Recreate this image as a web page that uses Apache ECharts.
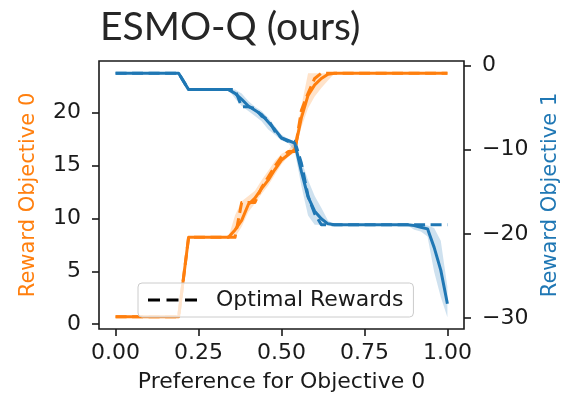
<!DOCTYPE html>
<html>
<head>
<meta charset="utf-8">
<script src="https://cdn.jsdelivr.net/npm/echarts@6/dist/echarts.min.js"></script>
<style>
  html, body { margin: 0; padding: 0; background: #fff; }
  #chart { width: 569px; height: 398px; }
</style>
</head>
<body>
<div id="chart"></div>
<script>
// Preference weights for objective 0 at which the policy was evaluated
const prefs = [0, 0.05, 0.1, 0.15, 0.19, 0.22, 0.26, 0.3, 0.34, 0.36, 0.38, 0.4, 0.42, 0.44, 0.46, 0.48, 0.5, 0.52, 0.54, 0.56, 0.58, 0.6, 0.62, 0.64, 0.66, 0.7, 0.75, 0.8, 0.85, 0.88, 0.9, 0.92, 0.94, 0.96, 0.98, 1.0];

// Objective 0 (left axis): mean reward, optimal reward, min/max envelope
const obj0Mean = [0.7, 0.7, 0.7, 0.7, 0.7, 8.2, 8.2, 8.2, 8.2, 8.9, 9.8, 11.3, 11.9, 12.8, 13.6, 14.6, 15.5, 16.0, 16.5, 19.5, 21.6, 22.6, 23.2, 23.6, 23.7, 23.7, 23.7, 23.7, 23.7, 23.7, 23.7, 23.7, 23.7, 23.7, 23.7, 23.7];
const obj0Opt  = [0.7, 0.7, 0.7, 0.7, 0.7, 8.2, 8.2, 8.2, 8.2, 8.2, 11.5, 11.5, 11.5, 12.9, 13.9, 14.9, 15.8, 16.3, 16.3, 20.2, 21.8, 23.2, 23.7, 23.7, 23.7, 23.7, 23.7, 23.7, 23.7, 23.7, 23.7, 23.7, 23.7, 23.7, 23.7, 23.7];
const obj0Low  = [0.7, 0.7, 0.7, 0.7, 0.7, 8.2, 8.2, 8.2, 8.2, 8.2, 9.2, 10.6, 11.4, 12.3, 13.1, 14.1, 15.1, 15.8, 16.2, 18.6, 20.4, 21.5, 22.3, 23.0, 23.7, 23.7, 23.7, 23.7, 23.7, 23.7, 23.7, 23.7, 23.7, 23.7, 23.7, 23.7];
const obj0High = [0.7, 0.7, 0.7, 0.7, 0.7, 8.2, 8.2, 8.2, 8.2, 10.3, 11.6, 12.1, 12.6, 13.6, 14.5, 15.4, 16.1, 16.4, 17.3, 20.6, 23.7, 23.7, 23.7, 23.7, 23.7, 23.7, 23.7, 23.7, 23.7, 23.7, 23.7, 23.7, 23.7, 23.7, 23.7, 23.7];

// Objective 1 (right axis): mean reward, optimal reward, min/max envelope
const obj1Mean = [-0.9, -0.9, -0.9, -0.9, -0.9, -2.85, -2.85, -2.85, -2.85, -3.3, -4.0, -4.8, -5.3, -5.8, -6.7, -7.6, -8.6, -8.9, -9.2, -12.6, -15.6, -17.3, -18.2, -18.8, -18.9, -18.9, -18.9, -18.9, -18.9, -18.9, -19.0, -19.2, -19.4, -21.6, -24.3, -28.3];
const obj1Opt  = [-0.9, -0.9, -0.9, -0.9, -0.9, -2.85, -2.85, -2.85, -2.85, -2.85, -4.9, -4.9, -5.1, -6.0, -6.4, -7.8, -8.6, -9.0, -9.0, -11.6, -15.5, -17.6, -18.9, -18.9, -18.9, -18.9, -18.9, -18.9, -18.9, -18.9, -18.9, -18.9, -18.9, -18.9, -18.9, -18.9];
const obj1Low  = [-0.9, -0.9, -0.9, -0.9, -0.9, -2.85, -2.85, -2.85, -2.85, -3.9, -4.8, -5.4, -6.0, -6.6, -7.6, -8.2, -8.9, -9.2, -10.2, -14.3, -17.8, -18.9, -18.9, -18.9, -18.9, -18.9, -18.9, -18.9, -18.9, -19.0, -19.5, -19.7, -20.3, -24.5, -27.5, -29.9];
const obj1High = [-0.9, -0.9, -0.9, -0.9, -0.9, -2.85, -2.85, -2.85, -2.85, -2.85, -3.3, -4.2, -4.9, -5.4, -6.2, -7.2, -8.2, -8.7, -9.0, -11.3, -13.6, -15.5, -16.9, -18.4, -18.9, -18.9, -18.9, -18.9, -18.9, -18.9, -18.9, -18.9, -19.0, -19.3, -20.8, -26.3];

// Tick labels
const xTicks = [0, 0.25, 0.5, 0.75, 1.0];
const leftTicks = [0, 5, 10, 15, 20];
const rightTicks = [0, -10, -20, -30];

const ORANGE = '#ff7f0e';
const BLUE = '#1f77b4';
const INK = '#1a1a1a';
const FONT = 'DejaVu Sans';

const pairs = (vals) => prefs.map((p, i) => [p, vals[i]]);
const minus = (v) => (v < 0 ? '\u2212' + Math.abs(v) : String(v));

// Shaded min/max envelope: one polygon through the upper edge and back along the lower edge
function band(name, axis, lo, hi, color) {
  const rows = prefs.map((p, i) => [p, lo[i], hi[i]]);
  return {
    name: name, type: 'custom', yAxisIndex: axis, silent: true, z: 1,
    data: rows,
    encode: { x: 0, y: [1, 2] },
    renderItem: function (params, api) {
      if (params.dataIndex !== 0) return null;
      const upper = rows.map((r) => api.coord([r[0], r[2]]));
      const lower = rows.slice().reverse().map((r) => api.coord([r[0], r[1]]));
      return {
        type: 'polygon',
        shape: { points: upper.concat(lower) },
        style: { fill: color, opacity: 0.22 }
      };
    }
  };
}

function curve(name, axis, vals, color, dashed) {
  return {
    name: name, type: 'line', yAxisIndex: axis, data: pairs(vals),
    symbol: 'none', z: dashed ? 2 : 3,
    lineStyle: { color: color, width: 3, type: dashed ? [11, 5.5] : 'solid', cap: 'butt', join: 'round' },
    itemStyle: { color: color }
  };
}

const tickStyle = (vals) => ({ show: true, length: 7, lineStyle: { color: INK, width: 1.6 }, customValues: vals });

const option = {
  animation: false,
  backgroundColor: '#fff',
  title: {
    text: 'ESMO-Q (ours)',
    left: 95, top: 3,
    textStyle: { fontFamily: 'Lato', fontWeight: 'normal', fontSize: 39, color: '#262626' }
  },
  grid: {
    left: 99, right: 99, top: 61, bottom: 67,
    show: true, borderColor: INK, borderWidth: 1.6, backgroundColor: 'transparent'
  },
  legend: {
    data: [{ name: 'Optimal Rewards', icon: 'path://M0,0H12V3H0Z M18.5,0H30.5V3H18.5Z M37,0H49V3H37Z' }],
    left: 138, top: 283,
    padding: [6, 10, 6, 10],
    itemWidth: 49, itemHeight: 3,
    itemStyle: { color: '#000' },
    backgroundColor: 'rgba(255,255,255,0.8)',
    borderColor: '#cccccc', borderWidth: 1, borderRadius: 4,
    textStyle: { fontFamily: FONT, fontSize: 22, color: INK, padding: [2, 0, 0, 14] }
  },
  xAxis: {
    type: 'value', min: -0.05, max: 1.05,
    axisLine: { show: false, onZero: false },
    splitLine: { show: false },
    name: 'Preference for Objective 0', nameLocation: 'middle', nameGap: 42,
    nameTextStyle: { fontFamily: FONT, fontSize: 22, color: INK },
    axisTick: tickStyle(xTicks),
    axisLabel: {
      customValues: xTicks, margin: 13, fontFamily: FONT, fontSize: 22, color: INK,
      formatter: (v) => v.toFixed(2)
    }
  },
  yAxis: [
    {
      type: 'value', position: 'left', min: -0.45, max: 24.85,
      axisLine: { show: false, onZero: false },
      splitLine: { show: false },
      name: 'Reward Objective 0', nameLocation: 'middle', nameGap: 60, nameRotate: 90,
      nameTextStyle: { fontFamily: FONT, fontSize: 21, color: ORANGE },
      axisTick: tickStyle(leftTicks),
      axisLabel: { customValues: leftTicks, margin: 18, fontFamily: FONT, fontSize: 22, color: INK }
    },
    {
      type: 'value', position: 'right', min: -31.3, max: 0.55,
      axisLine: { show: false, onZero: false },
      splitLine: { show: false },
      name: 'Reward Objective 1', nameLocation: 'middle', nameGap: 76, nameRotate: 90,
      nameTextStyle: { fontFamily: FONT, fontSize: 21, color: BLUE },
      axisTick: tickStyle(rightTicks),
      axisLabel: { customValues: rightTicks, margin: 18, fontFamily: FONT, fontSize: 22, color: INK, formatter: minus }
    }
  ],
  series: [
    band('obj0Band', 0, obj0Low, obj0High, ORANGE),
    band('obj1Band', 1, obj1Low, obj1High, BLUE),
    curve('obj0Optimal', 0, obj0Opt, ORANGE, true),
    curve('obj0Mean', 0, obj0Mean, ORANGE, false),
    curve('obj1Optimal', 1, obj1Opt, BLUE, true),
    curve('obj1Mean', 1, obj1Mean, BLUE, false),
    {
      name: 'Optimal Rewards', type: 'line', data: [], symbol: 'none',
      lineStyle: { color: '#000', width: 3, type: [11, 5.5] }, itemStyle: { color: '#000' }
    }
  ]
};

const chart = echarts.init(document.getElementById('chart'), null, { renderer: 'canvas' });
chart.setOption(option);
</script>
</body>
</html>
